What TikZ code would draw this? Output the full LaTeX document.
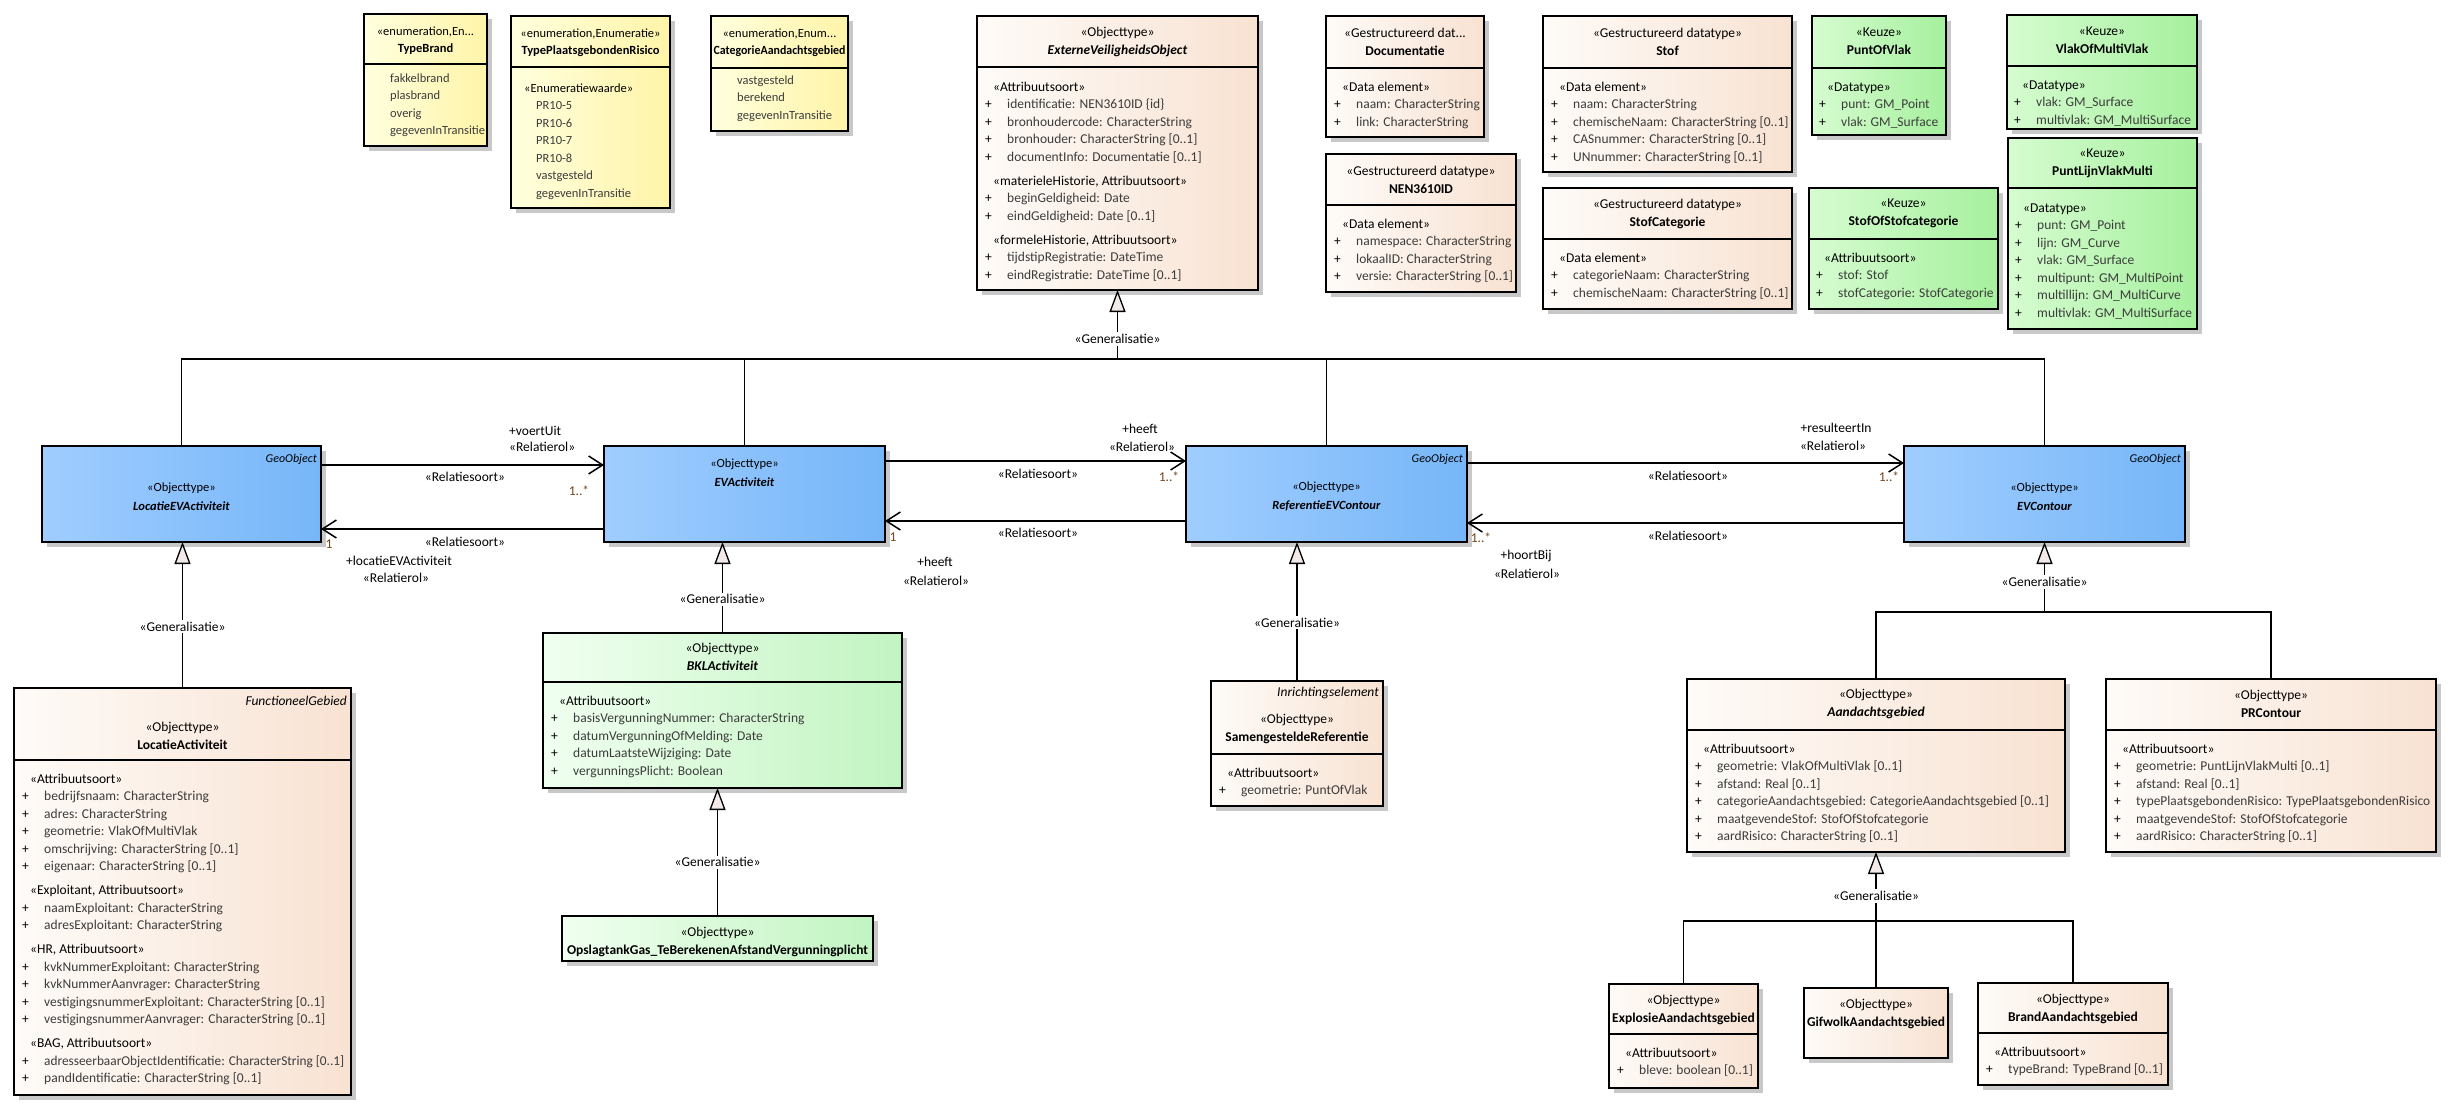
\documentclass[tikz,border=0pt]{standalone}
\usepackage{fontspec}
\setmainfont{Carlito}
\usepackage{graphicx}
\usetikzlibrary{arrows.meta,shadows}

\definecolor{peachL}{RGB}{254,251,248}
\definecolor{peachR}{RGB}{248,226,210}
\definecolor{yelL}{RGB}{255,255,222}
\definecolor{yelR}{RGB}{255,244,168}
\definecolor{grnL}{RGB}{214,252,208}
\definecolor{grnR}{RGB}{166,240,158}
\definecolor{bluL}{RGB}{160,205,255}
\definecolor{bluR}{RGB}{118,182,248}
\definecolor{lgrL}{RGB}{240,255,240}
\definecolor{lgrR}{RGB}{194,244,194}
\definecolor{attcol}{RGB}{60,60,60}
\definecolor{multcol}{RGB}{120,70,20}
\definecolor{trifill}{RGB}{242,234,232}
\definecolor{shadowc}{RGB}{200,200,200}

\newlength\fitlen
\newcommand\fitto[2]{\settowidth\fitlen{#2}\ifdim\fitlen>#1\relax\resizebox{#1}{\height}{#2}\else#2\fi}
\newcommand\fs{\fontsize{13.5}{17.5}\selectfont}
\newcommand\fe{\fontsize{12.5}{17.5}\selectfont}
\newcommand\st[1]{\hspace*{8pt}#1}
\newcommand\at[1]{\makebox[22pt][l]{+}{\color{attcol}#1}}
\newcommand\ev[1]{{\color{attcol}#1}}
\newcommand\tb[1]{\begin{tabular}{@{}l@{}}#1\end{tabular}}
\newcommand\ubox[6]{\node[ubox,#6,minimum width=#4-#2,minimum height=#5-#3] (#1) at ({(#2+#4)/2},{(#3+#5)/2}) {};}
\newcommand\divl[2]{\draw[ln] (#1.west |- 0,#2) -- (#1.east |- 0,#2);}

\tikzset{
  ubox/.style={draw=black, line width=1.3pt, inner sep=0pt, outer sep=0pt,
    drop shadow={shadow xshift=5pt, shadow yshift=-5pt, fill=shadowc, opacity=1}},
  peach/.style={left color=peachL, right color=peachR},
  yel/.style={left color=yelL, right color=yelR},
  grn/.style={left color=grnL, right color=grnR},
  blu/.style={left color=bluL, right color=bluR},
  lgr/.style={left color=lgrL, right color=lgrR},
  ln/.style={line width=1.3pt},
  hdr/.style={align=center, inner sep=0pt, font=\fontsize{13.5}{18}\selectfont},
  hdre/.style={align=center, inner sep=0pt, font=\fontsize{12.5}{17}\selectfont},
  hdrb/.style={align=center, inner sep=0pt, font=\fontsize{12.5}{19}\selectfont},
  body/.style={anchor=north west, inner sep=0pt, font=\fs},
  ebody/.style={anchor=north west, inner sep=0pt, font=\fe},
  tag/.style={anchor=east, inner sep=0pt, font=\fs\itshape},
  btag/.style={anchor=east, inner sep=0pt, font=\fontsize{12}{14}\selectfont\itshape},
  gen/.style={line width=1.3pt},
  genarr/.style={gen, -{Triangle[length=22pt,width=16pt,fill=trifill]}},
  assoc/.style={line width=1.5pt, -{Straight Barb[length=14pt,width=18pt]}},
  glbl/.style={fill=white, inner sep=2pt, font=\fs},
  rl/.style={inner sep=0pt, font=\fs},
  mult/.style={inner sep=0pt, font=\fs, text=multcol},
}

\begin{document}
\begin{tikzpicture}[x=1pt,y=-1pt]
\fill[white] (0,0) rectangle (2459,1113);
\useasboundingbox (0,0) rectangle (2459,1113);

% ---------------- enumerations ----------------
\ubox{tbrand}{364}{14}{487}{146}{yel}
\divl{tbrand}{64}
\node[hdre] (tbrand-h) at (425.5,40.5) {«enumeration,En...\\\textbf{TypeBrand}};
\node[ebody] (tbrand-b) at (390,70) {\tb{\ev{fakkelbrand}\\\ev{plasbrand}\\\ev{overig}\\\ev{gegevenInTransitie}}};

\ubox{tpr}{511}{16}{670}{208}{yel}
\divl{tpr}{67}
\node[hdre] (tpr-h) at (590.5,42.5) {«enumeration,Enumeratie»\\\fitto{150pt}{\textbf{TypePlaatsgebondenRisico}}};
\node[ebody] (tpr-b) at (524,80) {\tb{«Enumeratiewaarde»\\\hspace*{12pt}\ev{PR10-5}\\\hspace*{12pt}\ev{PR10-6}\\\hspace*{12pt}\ev{PR10-7}\\\hspace*{12pt}\ev{PR10-8}\\\hspace*{12pt}\ev{vastgesteld}\\\hspace*{12pt}\ev{gegevenInTransitie}}};

\ubox{cat}{711}{16}{848}{131}{yel}
\divl{cat}{68}
\node[hdre] (cat-h) at (779.5,43) {«enumeration,Enum...\\\fitto{132pt}{\textbf{CategorieAandachtsgebied}}};
\node[ebody] (cat-b) at (737,72) {\tb{\ev{vastgesteld}\\\ev{berekend}\\\ev{gegevenInTransitie}}};

% ---------------- ExterneVeiligheidsObject ----------------
\ubox{evo}{977}{16}{1258}{290}{peach}
\divl{evo}{67}
\node[hdr] (evo-h) at (1117.5,42) {«Objecttype»\\\textbf{\textit{ExterneVeiligheidsObject}}};
\node[body] (evo-b) at (985,79) {\tb{\st{«Attribuutsoort»}\\\at{identificatie: NEN3610ID \{id\}}\\\at{bronhoudercode: CharacterString}\\\at{bronhouder: CharacterString [0..1]}\\\at{documentInfo: Documentatie [0..1]}\\[6.5pt]\st{«materieleHistorie, Attribuutsoort»}\\\at{beginGeldigheid: Date}\\\at{eindGeldigheid: Date [0..1]}\\[6.5pt]\st{«formeleHistorie, Attribuutsoort»}\\\at{tijdstipRegistratie: DateTime}\\\at{eindRegistratie: DateTime [0..1]}}};

% ---------------- datatypes ----------------
\ubox{doc}{1326}{16}{1484}{137}{peach}
\divl{doc}{68}
\node[hdr] (doc-h) at (1405,41.5) {«Gestructureerd dat...\\\textbf{Documentatie}};
\node[body] (doc-b) at (1334,79) {\tb{\st{«Data element»}\\\at{naam: CharacterString}\\\at{link: CharacterString}}};

\ubox{nen}{1326}{154}{1516}{292}{peach}
\divl{nen}{205}
\node[hdr] (nen-h) at (1421,180) {«Gestructureerd datatype»\\\textbf{NEN3610ID}};
\node[body] (nen-b) at (1334,216) {\tb{\st{«Data element»}\\\at{namespace: CharacterString}\\\at{lokaalID: CharacterString}\\\at{versie: CharacterString [0..1]}}};

\ubox{stof}{1543}{16}{1792}{172}{peach}
\divl{stof}{68}
\node[hdr] (stof-h) at (1667.5,41.5) {«Gestructureerd datatype»\\\textbf{Stof}};
\node[body] (stof-b) at (1551,79) {\tb{\st{«Data element»}\\\at{naam: CharacterString}\\\at{chemischeNaam: CharacterString [0..1]}\\\at{CASnummer: CharacterString [0..1]}\\\at{UNnummer: CharacterString [0..1]}}};

\ubox{stofcat}{1543}{188}{1792}{309}{peach}
\divl{stofcat}{239}
\node[hdr] (stofcat-h) at (1667.5,213.5) {«Gestructureerd datatype»\\\textbf{StofCategorie}};
\node[body] (stofcat-b) at (1551,250) {\tb{\st{«Data element»}\\\at{categorieNaam: CharacterString}\\\at{chemischeNaam: CharacterString [0..1]}}};

% ---------------- keuze ----------------
\ubox{pov}{1812}{16}{1946}{135}{grn}
\divl{pov}{68}
\node[hdr] (pov-h) at (1879,41.5) {«Keuze»\\\textbf{PuntOfVlak}};
\node[body] (pov-b) at (1819,79) {\tb{\st{«Datatype»}\\\at{punt: GM\_Point}\\\at{vlak: GM\_Surface}}};

\ubox{vomv}{2007}{15}{2197}{129}{grn}
\divl{vomv}{66}
\node[hdr] (vomv-h) at (2102,40.5) {«Keuze»\\\textbf{VlakOfMultiVlak}};
\node[body] (vomv-b) at (2014,77) {\tb{\st{«Datatype»}\\\at{vlak: GM\_Surface}\\\at{multivlak: GM\_MultiSurface}}};

\ubox{plvm}{2008}{138}{2197}{329}{grn}
\divl{plvm}{188}
\node[hdr] (plvm-h) at (2102.5,163.5) {«Keuze»\\\textbf{PuntLijnVlakMulti}};
\node[body] (plvm-b) at (2015,200) {\tb{\st{«Datatype»}\\\at{punt: GM\_Point}\\\at{lijn: GM\_Curve}\\\at{vlak: GM\_Surface}\\\at{multipunt: GM\_MultiPoint}\\\at{multillijn: GM\_MultiCurve}\\\at{multivlak: GM\_MultiSurface}}};

\ubox{sos}{1809}{188}{1998}{309}{grn}
\divl{sos}{239}
\node[hdr] (sos-h) at (1903.5,213.5) {«Keuze»\\\textbf{StofOfStofcategorie}};
\node[body] (sos-b) at (1816,250) {\tb{\st{«Attribuutsoort»}\\\at{stof: Stof}\\\at{stofCategorie: StofCategorie}}};

% ---------------- blue objecttypes ----------------
\ubox{locev}{42}{446}{321}{542}{blu}
\node[btag] (locev-t) at (317,459) {GeoObject};
\node[hdrb] (locev-h) at (181.5,496.5) {«Objecttype»\\\textbf{\textit{LocatieEVActiviteit}}};

\ubox{evact}{604}{446}{885}{542}{blu}
\node[hdrb] (evact-h) at (744.5,473) {«Objecttype»\\\textbf{\textit{EVActiviteit}}};

\ubox{ref}{1186}{446}{1467}{542}{blu}
\node[btag] (ref-t) at (1463,459) {GeoObject};
\node[hdrb] (ref-h) at (1326.5,496.5) {«Objecttype»\\\textbf{\textit{ReferentieEVContour}}};

\ubox{evc}{1904}{446}{2185}{542}{blu}
\node[btag] (evc-t) at (2181,459) {GeoObject};
\node[hdrb] (evc-h) at (2044.5,496.5) {«Objecttype»\\\textbf{\textit{EVContour}}};

% ---------------- LocatieActiviteit ----------------
\ubox{loca}{14}{688}{351}{1095}{peach}
\divl{loca}{760}
\node[tag] (loca-t) at (347,701) {FunctioneelGebied};
\node[hdr] (loca-h) at (182.5,735.5) {«Objecttype»\\\textbf{LocatieActiviteit}};
\node[body] (loca-b) at (22,771) {\tb{\st{«Attribuutsoort»}\\\at{bedrijfsnaam: CharacterString}\\\at{adres: CharacterString}\\\at{geometrie: VlakOfMultiVlak}\\\at{omschrijving: CharacterString [0..1]}\\\at{eigenaar: CharacterString [0..1]}\\[6.5pt]\st{«Exploitant, Attribuutsoort»}\\\at{naamExploitant: CharacterString}\\\at{adresExploitant: CharacterString}\\[6.5pt]\st{«HR, Attribuutsoort»}\\\at{kvkNummerExploitant: CharacterString}\\\at{kvkNummerAanvrager: CharacterString}\\\at{vestigingsnummerExploitant: CharacterString [0..1]}\\\at{vestigingsnummerAanvrager: CharacterString [0..1]}\\[6.5pt]\st{«BAG, Attribuutsoort»}\\\at{\fitto{300pt}{adresseerbaarObjectIdentificatie: CharacterString [0..1]}}\\\at{pandIdentificatie: CharacterString [0..1]}}};

% ---------------- BKL ----------------
\ubox{bkl}{543}{633}{902}{788}{lgr}
\divl{bkl}{682}
\node[hdr] (bkl-h) at (722.5,657) {«Objecttype»\\\textbf{\textit{BKLActiviteit}}};
\node[body] (bkl-b) at (551,693) {\tb{\st{«Attribuutsoort»}\\\at{basisVergunningNummer: CharacterString}\\\at{datumVergunningOfMelding: Date}\\\at{datumLaatsteWijziging: Date}\\\at{vergunningsPlicht: Boolean}}};

\ubox{ops}{562}{916}{873}{961}{lgr}
\node[hdr] (ops-h) at (717.5,941.5) {«Objecttype»\\\fitto{304pt}{\textbf{OpslagtankGas\_TeBerekenenAfstandVergunningplicht}}};

% ---------------- SamengesteldeReferentie ----------------
\ubox{sam}{1211}{681}{1383}{806}{peach}
\divl{sam}{754}
\node[tag] (sam-t) at (1379,693) {Inrichtingselement};
\node[hdr] (sam-h) at (1297,729) {«Objecttype»\\\textbf{SamengesteldeReferentie}};
\node[body] (sam-b) at (1219,765) {\tb{\st{«Attribuutsoort»}\\\at{geometrie: PuntOfVlak}}};

% ---------------- contours ----------------
\ubox{aand}{1687}{679}{2065}{852}{peach}
\divl{aand}{730}
\node[hdr] (aand-h) at (1876,703.5) {«Objecttype»\\\textbf{\textit{Aandachtsgebied}}};
\node[body] (aand-b) at (1695,741) {\tb{\st{«Attribuutsoort»}\\\at{geometrie: VlakOfMultiVlak [0..1]}\\\at{afstand: Real [0..1]}\\\at{categorieAandachtsgebied: CategorieAandachtsgebied [0..1]}\\\at{maatgevendeStof: StofOfStofcategorie}\\\at{aardRisico: CharacterString [0..1]}}};

\ubox{prc}{2106}{679}{2436}{852}{peach}
\divl{prc}{730}
\node[hdr] (prc-h) at (2271,703.5) {«Objecttype»\\\textbf{PRContour}};
\node[body] (prc-b) at (2114,741) {\tb{\st{«Attribuutsoort»}\\\at{geometrie: PuntLijnVlakMulti [0..1]}\\\at{afstand: Real [0..1]}\\\at{\fitto{294pt}{typePlaatsgebondenRisico: TypePlaatsgebondenRisico}}\\\at{maatgevendeStof: StofOfStofcategorie}\\\at{aardRisico: CharacterString [0..1]}}};

\ubox{expl}{1609}{984}{1758}{1088}{peach}
\divl{expl}{1034}
\node[hdr] (expl-h) at (1683.5,1009.5) {«Objecttype»\\\fitto{143pt}{\textbf{ExplosieAandachtsgebied}}};
\node[body] (expl-b) at (1617,1045) {\tb{\st{«Attribuutsoort»}\\\at{bleve: boolean [0..1]}}};

\ubox{gif}{1804}{988}{1948}{1058}{peach}
\node[hdr] (gif-h) at (1876,1014) {«Objecttype»\\\fitto{138pt}{\textbf{GifwolkAandachtsgebied}}};

\ubox{brand}{1978}{983}{2168}{1085}{peach}
\divl{brand}{1033}
\node[hdr] (brand-h) at (2073,1008.5) {«Objecttype»\\\textbf{BrandAandachtsgebied}};
\node[body] (brand-b) at (1986,1044) {\tb{\st{«Attribuutsoort»}\\\at{typeBrand: TypeBrand [0..1]}}};

% ---------------- generalisations ----------------
\coordinate (bus) at (0,359);
\draw[gen] (locev.north) -- (locev.north |- bus) -- (evc.north |- bus) -- (evc.north);
\draw[gen] (evact.north) -- (evact.north |- bus);
\draw[gen] (ref.north) -- (ref.north |- bus);
\draw[genarr] (evo.south |- bus) -- node[glbl,pos=0.29] (g0) {«Generalisatie»} (evo.south);

\draw[genarr] (loca.north) -- node[glbl,pos=0.42] (g1) {«Generalisatie»} (loca.north |- locev.south);
\draw[genarr] (bkl.north) -- node[glbl,pos=0.37] (g2) {«Generalisatie»} (bkl.north |- evact.south);
\draw[genarr] (ops.north) -- node[glbl,pos=0.42] (g3) {«Generalisatie»} (ops.north |- bkl.south);
\draw[genarr] (sam.north) -- node[glbl,pos=0.42] (g4) {«Generalisatie»} (sam.north |- ref.south);

\coordinate (bus2) at (0,612);
\draw[gen] (aand.north) -- (aand.north |- bus2) -- (prc.north |- bus2) -- (prc.north);
\draw[genarr] (evc.south |- bus2) -- node[glbl,pos=0.43] (g5) {«Generalisatie»} (evc.south);

\coordinate (bus3) at (0,921);
\draw[gen] (expl.north) -- (expl.north |- bus3) -- (brand.north |- bus3) -- (brand.north);
\draw[gen] (gif.north) -- (gif.north |- bus3);
\draw[genarr] (aand.south |- bus3) -- node[glbl,pos=0.36] (g6) {«Generalisatie»} (aand.south);

% ---------------- associations ----------------
\draw[assoc] ([yshift=-19pt]locev.north east) -- ([yshift=-19pt]evact.north west);
\draw[assoc] ([yshift=13pt]evact.south west) -- ([yshift=13pt]locev.south east);
\draw[assoc] ([yshift=-15pt]evact.north east) -- ([yshift=-15pt]ref.north west);
\draw[assoc] ([yshift=21pt]ref.south west) -- ([yshift=21pt]evact.south east);
\draw[assoc] ([yshift=-17pt]ref.north east) -- ([yshift=-17pt]evc.north west);
\draw[assoc] ([yshift=19pt]evc.south west) -- ([yshift=19pt]ref.south east);

\node[rl,anchor=west] (l1a) at (509,431) {+voertUit};
\node[rl,anchor=west] (l1b) at (509,447) {«Relatierol»};
\node[rl] (l1c) at (465,477) {«Relatiesoort»};
\node[mult] (l1d) at (579,491) {1..*};
\node[rl] (l2c) at (465,542) {«Relatiesoort»};
\node[mult] (l2d) at (329,544) {1};
\node[rl] (l2a) at (399,561) {+locatieEVActiviteit};
\node[rl] (l2b) at (396,578) {«Relatierol»};
\node[rl] (l3a) at (1140,429) {+heeft};
\node[rl] (l3b) at (1142,447) {«Relatierol»};
\node[rl] (l3c) at (1038,474) {«Relatiesoort»};
\node[mult] (l3d) at (1169,477) {1..*};
\node[rl] (l4c) at (1038,533) {«Relatiesoort»};
\node[mult] (l4d) at (893,537) {1};
\node[rl] (l4a) at (935,562) {+heeft};
\node[rl] (l4b) at (936,581) {«Relatierol»};
\node[rl] (l5a) at (1836,428) {+resulteertIn};
\node[rl] (l5b) at (1833,446) {«Relatierol»};
\node[rl] (l5c) at (1688,476) {«Relatiesoort»};
\node[mult] (l5d) at (1889,477) {1..*};
\node[rl] (l6c) at (1688,536) {«Relatiesoort»};
\node[mult] (l6d) at (1481,538) {1..*};
\node[rl] (l6a) at (1526,556) {+hoortBij};
\node[rl] (l6b) at (1527,574) {«Relatierol»};
\end{tikzpicture}
\end{document}
